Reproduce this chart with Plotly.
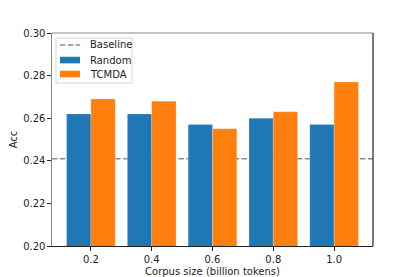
import plotly.graph_objects as go

categories = [0.2, 0.4, 0.6, 0.8, 1.0]
tick_labels = ["0.2", "0.4", "0.6", "0.8", "1.0"]
random_acc = [0.262, 0.262, 0.257, 0.260, 0.257]
tcmda_acc = [0.269, 0.268, 0.255, 0.263, 0.277]
baseline_acc = 0.241

series_names = ["Baseline", "Random", "TCMDA"]
colors = {"Random": "#1f77b4", "TCMDA": "#ff7f0e", "Baseline": "#8c8c8c"}

bar_w = 0.08
dash_style = "5.5px,2.4px"

fig = go.Figure()
fig.add_trace(go.Bar(
    x=categories, y=random_acc, name="Random", width=bar_w, offset=-bar_w,
    marker=dict(color=colors["Random"], line=dict(color="rgba(255,255,255,0.35)", width=0.6)),
    showlegend=False,
))
fig.add_trace(go.Bar(
    x=categories, y=tcmda_acc, name="TCMDA", width=bar_w, offset=0,
    marker=dict(color=colors["TCMDA"], line=dict(color="rgba(255,255,255,0.35)", width=0.6)),
    showlegend=False,
))

fig.add_shape(type="line", xref="x domain", yref="y", x0=0, x1=1,
              y0=baseline_acc, y1=baseline_acc,
              line=dict(color=colors["Baseline"], width=1.5, dash=dash_style),
              layer="below")

# top and right spines
fig.add_shape(type="line", xref="paper", yref="paper", x0=0, x1=1, y0=1, y1=1,
              line=dict(color="#888888", width=1.2))
fig.add_shape(type="line", xref="paper", yref="paper", x0=1, x1=1, y0=0, y1=1,
              line=dict(color="#222222", width=1.2))

# legend (matplotlib style)
fig.add_shape(type="rect", xref="paper", yref="paper", x0=0.0125, x1=0.249, y0=0.765, y1=0.9765,
              line=dict(color="#d6d6d6", width=1), fillcolor="rgba(255,255,255,0.85)")
hx0, hx1 = 0.0249, 0.0872
text_x = 0.112
rows_y = [0.9437, 0.873, 0.8075]
for name, yc in zip(series_names, rows_y):
    if name == "Baseline":
        fig.add_shape(type="line", xref="paper", yref="paper", x0=hx0, x1=hx1, y0=yc, y1=yc,
                      line=dict(color=colors[name], width=1.5, dash=dash_style))
    else:
        fig.add_shape(type="rect", xref="paper", yref="paper", x0=hx0, x1=hx1,
                      y0=yc - 0.0155, y1=yc + 0.0155, line=dict(width=0), fillcolor=colors[name])
    fig.add_annotation(xref="paper", yref="paper", x=text_x, y=yc, text=name, showarrow=False,
                       xanchor="left", yanchor="middle", font=dict(size=10, color="#222222"))

# page body has an 8px margin, so the figure is shifted by 8px; compensate
fig.update_layout(
    width=407, height=269,
    margin=dict(l=44, r=42, t=25, b=31),
    plot_bgcolor="white", paper_bgcolor="white",
    font=dict(family="DejaVu Sans", size=10, color="#222222"),
    barmode="overlay",
    showlegend=False,
    xaxis=dict(range=[0.072, 1.128], tickvals=categories, ticktext=tick_labels,
               showgrid=False, zeroline=False, showline=True, linecolor="#222222", linewidth=1.2,
               ticks="outside", ticklen=3.5, tickcolor="#222222", automargin=False,
               tickfont=dict(size=10),
               title=dict(text="Corpus size (billion tokens)", standoff=4, font=dict(size=10))),
    yaxis=dict(range=[0.20, 0.30], tickvals=[0.20, 0.22, 0.24, 0.26, 0.28, 0.30],
               tickformat=".2f", automargin=False,
               showgrid=False, zeroline=False, showline=True, linecolor="#888888", linewidth=1.2,
               ticks="outside", ticklen=3.5, tickcolor="#222222",
               tickfont=dict(size=10),
               title=dict(text="Acc", standoff=6, font=dict(size=10))),
)

fig.write_html("out.html")
